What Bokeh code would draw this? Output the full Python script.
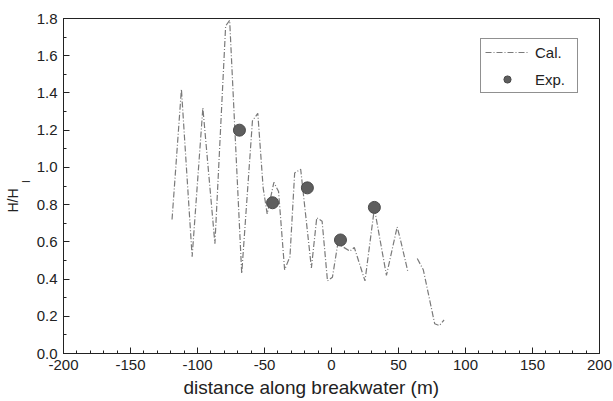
from bokeh.plotting import figure
from bokeh.models import (Legend, LegendItem, SingleIntervalTicker,
                          PrintfTickFormatter, Range1d, ColumnDataSource, Title)
from bokeh.embed import file_html
from bokeh.resources import INLINE

nan = float("nan")

# Calculated H/HI along the breakwater
cal_x = [-119, -112, -104, -96, -87, -79, -76, -67, -59, -55, -51, -48, -43,
         -39.5, -35, -31, -27.5, -23, -15, -11, -7, -3, 0.7, 4.7, 13.7, 17,
         25, 32, 41, 49, 51.5, 57, nan, 64, 68.5, 77, 80.5, 84]
cal_y = [0.72, 1.42, 0.52, 1.32, 0.59, 1.76, 1.79, 0.43, 1.25, 1.29, 0.89,
         0.75, 0.92, 0.87, 0.45, 0.52, 0.97, 0.99, 0.46, 0.73, 0.71, 0.39,
         0.41, 0.59, 0.55, 0.57, 0.39, 0.78, 0.42, 0.68, 0.61, 0.44, nan,
         0.51, 0.45, 0.16, 0.15, 0.18]

# Experimental points
exp_x = [-68.7, -44, -18, 6.7, 32]
exp_y = [1.20, 0.81, 0.89, 0.61, 0.785]

x_title = "distance along breakwater (m)"
y_title_main = "H/H"
y_title_sub = "I"
legend_labels = ["Cal.", "Exp."]

FONT = "Liberation Sans"
INK = "#222222"

p = figure(width=613, height=401, output_backend="svg", toolbar_location=None,
           x_range=Range1d(-200, 200), y_range=Range1d(0, 1.8),
           min_border_left=63, min_border_right=14, min_border_top=18,
           min_border_bottom=48)
p.background_fill_color = "white"
p.border_fill_color = "white"
p.outline_line_color = INK
p.outline_line_width = 1
p.grid.visible = False

p.xaxis.ticker = SingleIntervalTicker(interval=50, num_minor_ticks=5)
p.yaxis.ticker = SingleIntervalTicker(interval=0.2, num_minor_ticks=2)
p.xaxis.formatter = PrintfTickFormatter(format="%d")
p.yaxis.formatter = PrintfTickFormatter(format="%.1f")

for ax in (p.xaxis[0], p.yaxis[0]):
    ax.axis_line_color = INK
    ax.major_tick_line_color = INK
    ax.minor_tick_line_color = INK
    ax.major_tick_in = 6
    ax.major_tick_out = 0
    ax.minor_tick_in = 3
    ax.minor_tick_out = 0
    ax.major_label_text_font = FONT
    ax.major_label_text_font_size = "15px"
    ax.major_label_text_color = INK
    ax.major_label_standoff = 6

p.add_layout(Title(text=x_title, align="left", offset=120, standoff=5,
                   text_font=FONT, text_font_size="19px",
                   text_font_style="normal", text_color=INK), "below")

# y-axis title "H/H" with subscript "I" (subscript panel sits nearer the axis)
p.add_layout(Title(text=y_title_sub, align="left", offset=170.5, standoff=3,
                   text_font=FONT, text_font_size="10px",
                   text_font_style="normal", text_color=INK), "left")
p.add_layout(Title(text=y_title_main, align="left", offset=141, standoff=-6,
                   text_font=FONT, text_font_size="14px",
                   text_font_style="normal", text_color=INK), "left")

src_cal = ColumnDataSource(dict(x=cal_x, y=cal_y))
src_exp = ColumnDataSource(dict(x=exp_x, y=exp_y))

r_cal = p.line("x", "y", source=src_cal, line_color="#7a7a7a", line_width=1.2,
               line_dash="6 2 1 2")
r_exp = p.scatter("x", "y", source=src_exp, size=12, marker="circle",
                  fill_color="#5e5e5e", line_color="#4a4a4a", line_width=1)

legend = Legend(items=[LegendItem(label=legend_labels[0], renderers=[r_cal]),
                       LegendItem(label=legend_labels[1], renderers=[r_exp])],
                location=(417, 260), border_line_color=INK, border_line_width=1,
                background_fill_color="white", background_fill_alpha=1,
                label_text_font=FONT, label_text_font_size="15px",
                label_text_color=INK, glyph_width=44, glyph_height=18,
                label_height=18, label_width=38, label_standoff=6, padding=4,
                spacing=9, margin=0)
p.add_layout(legend, "center")

open("out.html", "w").write(file_html(p, INLINE))
